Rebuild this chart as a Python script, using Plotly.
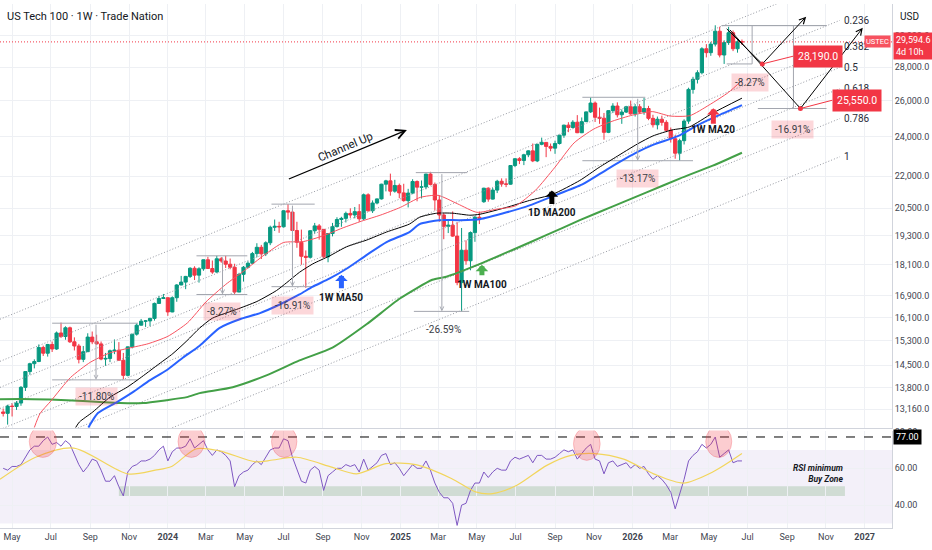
import math
import pandas as pd
import plotly.graph_objects as go

# ---------------- data ----------------
WEEK_START = "2023-04-17"
OPEN = [13080,13040,13250,13240,13340,13810,14300,14550,14620,15080,14890,15180,15030,15570,15450,15750,15270,15130,14690,14940,15430,15270,15200,14700,14720,14970,14990,14660,14180,15100,15530,15840,15980,15990,16080,16620,16800,
        16830,16310,16830,17310,17420,17640,17960,17690,17940,18300,17950,17810,18340,18250,18120,18000,17040,17720,18000,18160,18550,18810,18540,19000,19660,19700,19680,20390,20330,19520,19020,18440,18400,19510,19720,19570,18420,19390,19690,20000,20050,20270,20200,20350,20030,21120,20390,20740,20930,21620,21780,21290,21560,
        21210,20850,21200,21750,21480,21490,22110,21610,20880,20200,19700,19750,19280,17400,18690,18260,19430,20100,20800,21430,20920,21340,21760,21630,21620,22530,22870,22780,23070,23270,22760,23610,23710,23500,23410,23650,24090,24630,24500,24790,24220,24820,25360,25860,25060,25010,24240,25430,25690,25200,25350,25650,
        25250,25650,25350,25550,25000,24650,24950,24780,24350,23900,23150,23800,24850,26650,27250,27650,29150,28900,29450,30300,28750,29550,30200,29150,29600]
HIGH = [13180,13290,13330,13400,13850,14310,14580,14690,15180,15140,15200,15280,15620,15930,15800,15790,15420,15200,15130,15560,15620,15510,15280,14900,15010,15350,15260,14900,15110,15530,15900,16060,16020,16100,16650,16900,16970,
        16840,16880,17340,17660,17660,18000,18040,18000,18310,18420,18270,18460,18410,18460,18350,18140,17780,18050,18240,18620,18980,18910,19060,19730,20000,19900,20410,20690,20450,19900,19560,18680,19540,19850,19800,19580,19400,19850,20100,20120,20350,20500,20560,20690,21180,21190,20860,20950,21640,21830,22130,21830,21650,
        21640,21400,21860,21800,21800,22120,22220,21700,21090,20280,20000,20360,19880,19630,19100,19480,20160,20350,21450,21470,21440,21830,21900,21900,22550,22900,22950,23120,23300,23650,23630,23960,23720,23650,23800,24100,24650,24790,24900,25180,25050,25380,26180,25950,25600,25300,25450,25850,25900,25500,25700,26000,
        25800,25800,26150,25700,25200,25100,25150,24900,24500,24100,23900,24950,26750,27400,27800,29250,29450,29600,30700,30600,29700,30600,30350,29700,29750]
LOW = [12950,12720,12950,13140,13260,13700,14200,14400,14600,14800,14780,14930,15000,15400,15340,15230,14980,14560,14600,14930,15190,15170,14660,14480,14600,14860,14660,14060,14150,15050,15480,15830,15780,15800,16000,16600,16780,
       16170,16300,16680,17300,17150,17580,17500,17400,17860,17930,17740,17780,18180,17970,17920,16970,17040,17440,17950,18130,18400,18330,18450,18900,19500,19420,19650,20000,19490,18790,18100,17200,18350,19380,19130,18370,18200,19270,19650,19680,19870,20070,20050,19900,19970,20350,20290,20680,20900,21280,21080,21220,20960,
       20800,20540,21150,20820,20950,21380,21560,20400,19900,19150,19410,19250,17300,16330,18100,17880,19040,19800,20750,20800,20900,21200,21500,21480,21600,22450,22600,22550,22950,22700,22700,23560,22950,23250,23120,23600,23950,24250,24450,24200,24200,24800,25300,24800,24700,23850,24200,25300,25050,24700,25300,25200,
       25100,25250,25200,24900,24500,24400,24600,24250,23700,22870,22770,23600,24700,26400,27000,27550,28600,28700,29300,28600,28190,29400,29000,28900,29400]
CLOSE = [13040,13250,13240,13340,13810,14300,14550,14620,15080,14890,15180,15030,15570,15450,15750,15270,15130,14690,14940,15430,15270,15200,14700,14720,14970,14990,14660,14180,15100,15530,15840,15980,15990,16080,16620,16800,16830,
         16310,16830,17310,17420,17640,17960,17690,17940,18300,17950,17810,18340,18250,18120,18000,17040,17720,18000,18160,18550,18810,18540,19000,19660,19700,19680,20390,20330,19520,19020,18440,18400,19510,19720,19570,18420,19390,19690,20000,20050,20270,20200,20350,20030,21120,20390,20740,20930,21620,21780,21290,21560,21210,
         20850,21200,21750,21480,21490,22110,21610,20880,20200,19700,19750,19280,17400,18690,18260,19430,20100,20060,21430,20920,21340,21760,21630,21620,22530,22870,22780,23070,23270,22760,23610,23710,23500,23410,23650,24090,24630,24500,24790,24220,24820,25360,25860,25060,25010,24240,25430,25690,25200,25350,25650,25250,
         25650,25350,25550,25000,24650,24950,24780,24350,23900,23150,23800,24850,26650,27250,27650,29150,28900,29450,30300,28750,29550,30200,29150,29600,29595]
RSI = [60,59,61,61,62,66,70,72,72,75,77,73,74,72,75,73,67,62,58,61,65,64,59,53,53,56,50,45,58,61,62,64,64,65,67,70,72,
       64,69,71,71,72,76,71,73,75,70,67,70,69,67,64,50,56,58,59,62,64,62,66,70,71,71,76,75,66,60,53,52,59,61,59,48,56,58,60,60,62,61,62,58,65,59,61,63,67,68,62,63,60,
       56,59,62,60,60,64,59,52,47,44,44,41,29,40,41,48,52,52,58,55,58,60,59,59,64,66,65,66,67,63,67,67,65,65,66,68,70,69,70,65,68,71,73,65,64,57,63,64,61,62,63,60,
       62,60,61,57,54,56,54,51,47,38,46,54,64,67,69,73,71,73,77,66,68,70,63,64,64]
RSI_MA_DATES = ["2023-04-12","2023-06-07","2023-08-06","2023-10-30","2023-12-12","2024-01-07","2024-02-14","2024-03-22","2024-05-18","2024-06-14","2024-07-22","2024-09-16","2024-10-24","2024-12-09","2025-01-25","2025-03-22","2025-04-29","2025-05-26","2025-07-03","2025-08-19","2025-09-26","2025-11-02","2025-12-18","2026-02-03","2026-03-22","2026-05-07","2026-06-22"]
RSI_MA = [54,66,71,57,59,61,70.5,69.5,63.5,64.5,66,60.5,57,62.5,62,54.5,47.2,46.3,50.8,61.6,67,68,65,57,52,58,68]

MA20_DATES = ["2023-06-05","2023-06-14","2023-07-01","2023-08-01","2023-09-01","2023-10-01","2023-11-01","2023-12-01","2024-01-01","2024-02-01","2024-03-01","2024-04-01","2024-05-01","2024-06-01","2024-07-01","2024-08-01","2024-09-01","2024-10-01","2024-11-01","2024-12-01","2025-01-01","2025-02-01","2025-03-01","2025-04-01","2025-05-01","2025-06-01","2025-07-01","2025-08-01","2025-09-01","2025-10-01","2025-11-01","2025-12-01","2026-01-01","2026-02-01","2026-03-01","2026-04-01","2026-05-01","2026-06-01","2026-06-22"]
MA20 = [12640,13035,13400,14115,14595,14895,15060,15205,15455,15925,16675,17330,17880,18500,19010,19050,19290,19620,19930,20200,20545,21000,21095,20700,20320,20460,20615,21325,22450,23685,24420,24855,25180,25375,25130,25150,25740,26480,27190]
MA50_DATES = ["2023-08-29","2023-09-13","2023-10-13","2023-11-07","2023-12-04","2023-12-30","2024-01-25","2024-02-20","2024-03-22","2024-04-23","2024-05-24","2024-06-25","2024-07-26","2024-08-16","2024-09-11","2024-10-08","2024-11-09","2024-12-10","2025-01-15","2025-01-31","2025-03-03","2025-04-04","2025-05-06","2025-06-17","2025-07-23","2025-08-28","2025-10-14","2025-11-24","2026-01-09","2026-02-02","2026-03-14","2026-04-15","2026-05-17","2026-06-22"]
MA50 = [12640,13050,13370,13665,14030,14340,14750,15140,15740,16050,16260,16580,16950,17245,17550,17940,18500,19030,19455,19800,19970,19970,20015,20320,20635,21050,21610,22380,23215,23580,24050,24660,25180,25740]
MA100_DATES = ["2023-04-12","2023-06-02","2023-07-26","2023-09-16","2023-10-18","2023-11-23","2023-12-30","2024-01-31","2024-02-20","2024-04-12","2024-06-04","2024-07-26","2024-09-16","2024-11-09","2024-12-31","2025-02-20","2025-03-14","2025-05-06","2025-06-26","2025-08-19","2025-10-10","2025-12-01","2026-01-23","2026-03-16","2026-05-07","2026-06-22"]
MA100 = [13455,13455,13425,13370,13340,13340,13425,13515,13635,13815,14180,14655,15075,15880,16800,17510,17630,18135,18700,19330,19970,20590,21230,21890,22525,23175]
MA200D_DATES = ["2023-08-09","2023-08-15","2023-09-05","2023-10-02","2023-10-29","2023-11-18","2023-12-15","2024-01-09","2024-01-31","2024-02-20","2024-03-11","2024-04-18","2024-05-20","2024-06-20","2024-07-06","2024-07-26","2024-08-16","2024-09-11","2024-10-08","2024-11-09","2024-12-10","2025-01-15","2025-01-31","2025-02-27","2025-03-24","2025-04-20","2025-05-06","2025-06-17","2025-07-23","2025-08-28","2025-10-10","2025-11-09","2025-12-05","2026-01-09","2026-02-02","2026-03-04","2026-03-31","2026-05-07","2026-06-22"]
MA200D = [12640,12795,13080,13515,13815,14090,14495,14880,15305,15740,16085,16400,16690,17100,17400,17800,18135,18450,18830,19115,19455,19800,20100,20280,20280,20190,20235,20545,20860,21140,21800,22430,22940,23635,24050,24370,24530,25290,26140]

PRICE_TICKS = [13160,13800,14500,15300,16100,16900,18100,19300,20500,22000,24000,26000,28000,30000]
RSI_TICKS = [40, 60, 80]
MONTH_TICKS = ["2023-05-01","2023-07-01","2023-09-01","2023-11-01","2024-01-01","2024-03-01","2024-05-01","2024-07-01","2024-09-01","2024-11-01",
               "2025-01-01","2025-03-01","2025-05-01","2025-07-01","2025-09-01","2025-11-01","2026-01-01","2026-03-01","2026-05-01","2026-07-01","2026-09-01","2026-11-01","2027-01-01"]
MONTH_LABELS = ["May","Jul","Sep","Nov","<b>2024</b>","Mar","May","Jul","Sep","Nov","<b>2025</b>","Mar","May","Jul","Sep","Nov","<b>2026</b>","Mar","May","Jul","Sep","Nov","<b>2027</b>"]
LAST_PRICE = 29594.6
X_RANGE = ["2023-04-12", "2027-02-13"]
Y_RANGE = [12613, 32176]
RSI_RANGE = [27.6, 80.5]

# channel (fib channel): level 1 (bottom) and level 0 (top) anchor lines
CH_DATES = ["2023-04-12", "2026-11-23"]
CH_TOP = [16050, 34060]
CH_BOT = [10825, 22970]
FIB_LEVELS = [0, 0.236, 0.382, 0.5, 0.618, 0.786, 1]
FIB_TEXT = ["0", "0.236", "0.382", "0.5", "0.618", "0.786", "1"]

# measured ranges
RANGES = [
    dict(top=15910, bot=14040, tx=("2023-07-03", "2023-11-15"), bx=("2023-07-03", "2023-11-15"), mid="2023-09-10", label="-11.80%", lx="2023-09-10", ly=13545, pink=True, head=True),
    dict(top=18460, bot=16950, tx=("2024-02-15", "2024-05-05"), bx=("2024-02-15", "2024-05-05"), mid="2024-03-27", label="-8.27%", lx="2024-03-26", ly=16330, pink=True, head=True),
    dict(top=20690, bot=17245, tx=("2024-06-12", "2024-08-19"), bx=("2024-06-12", "2024-08-19"), mid="2024-07-15", label="-16.91%", lx="2024-07-15", ly=16560, pink=True, head=True),
    dict(top=22180, bot=16330, tx=("2025-01-25", "2025-04-16"), bx=("2025-01-22", "2025-04-19"), mid="2025-03-07", label="-26.59%", lx="2025-03-09", ly=15695, pink=False, head=True),
    dict(top=26190, bot=22770, tx=("2025-10-14", "2026-01-21"), bx=("2025-10-14", "2026-04-06"), mid="2026-01-09", label="-13.17%", lx="2026-01-09", ly=21890, pink=True, head=True),
    dict(top=30680, bot=28190, tx=("2026-05-21", "2026-11-02"), bx=("2026-05-29", "2026-07-08"), mid="2026-07-08", label="-8.27%", lx="2026-07-04", ly=27060, pink=True, head=False),
    dict(top=30680, bot=25550, tx=("2026-05-21", "2026-11-02"), bx=("2026-07-17", "2026-11-02"), mid="2026-09-11", label="-16.91%", lx="2026-09-10", ly=24410, pink=True, head=False),
]

# projection paths
PATH1_DATES = ["2026-05-29", "2026-07-24", "2026-10-01"]
PATH1 = [30460, 28190, 31290]
PATH2_DATES = ["2026-06-03", "2026-09-22", "2026-12-29"]
PATH2 = [30390, 25550, 30530]
TARGET_LABEL_DATES = ["2026-09-11", "2026-11-11"]
TARGET_LABEL_PRICES = [28680, 26020]
TARGET_TEXT = ["28,190.0", "25,550.0"]

CHANNEL_ARROW_DATES = ["2024-07-07", "2025-01-11"]
CHANNEL_ARROW = [21840, 24370]

# MA callouts: tip date, tip price, tail length px, color, label, label price
CALLOUTS = [
    ("2024-09-30", 17705, 15, "#2962ff", "1W MA50", 16835),
    ("2025-05-09", 18095, 12, "#4caf50", "1W MA100", 17320),
    ("2025-08-27", 21325, 15, "#000000", "1D MA200", 20320),
    ("2026-05-08", 25570, 17, "#f23645", "1W MA20", 24370),
]

# RSI circles (x0, x1, y0, y1)
RSI_CIRCLES = [
    ("2023-05-28", "2023-07-10", 65.9, 83.2),
    ("2024-01-17", "2024-02-28", 65.9, 83.2),
    ("2024-06-12", "2024-07-22", 65.9, 83.2),
    ("2025-09-30", "2025-11-11", 64.3, 82.2),
    ("2026-04-26", "2026-06-06", 65.9, 83.2),
]
BUY_ZONE = ("2023-10-16", "2026-12-01", 45.0, 50.3)
RSI_LEVEL = 77

# ---------------- figure ----------------
UP, DOWN = "#089981", "#f23645"
GRID = "#eef0f4"
GRAYLINE = "#a3a6af"
LG = math.log10
FONT = "Roboto, 'Open Sans', sans-serif"

DATES = pd.date_range(WEEK_START, periods=len(CLOSE), freq="7D")

fig = go.Figure()

# fib channel lines
lt = [math.log(v) for v in CH_TOP]
lb = [math.log(v) for v in CH_BOT]
fib_end = []
for L in FIB_LEVELS:
    ys = [math.exp(lb[i] + (1 - L) * (lt[i] - lb[i])) for i in range(2)]
    fib_end.append(ys[1])
    fig.add_trace(go.Scatter(x=CH_DATES, y=ys, mode="lines", xaxis="x", yaxis="y",
                             line=dict(color="#9598a1", width=1, dash="1px,2px"), hoverinfo="skip"))

# measurement lines
for r in RANGES:
    fig.add_trace(go.Scatter(x=list(r["tx"]), y=[r["top"], r["top"]], mode="lines",
                             line=dict(color=GRAYLINE, width=1), hoverinfo="skip"))
    fig.add_trace(go.Scatter(x=list(r["bx"]), y=[r["bot"], r["bot"]], mode="lines",
                             line=dict(color=GRAYLINE, width=1), hoverinfo="skip"))
    if not r["head"]:
        fig.add_trace(go.Scatter(x=[r["mid"], r["mid"]], y=[r["top"], r["bot"]], mode="lines",
                                 line=dict(color=GRAYLINE, width=1), hoverinfo="skip"))

# current price line
fig.add_trace(go.Scatter(x=X_RANGE, y=[LAST_PRICE, LAST_PRICE], mode="lines",
                         line=dict(color="#f23645", width=1, dash="1px,2px"), hoverinfo="skip"))

# candles
fig.add_trace(go.Candlestick(x=DATES, open=OPEN, high=HIGH, low=LOW, close=CLOSE,
                             increasing=dict(line=dict(color=UP, width=1), fillcolor=UP),
                             decreasing=dict(line=dict(color=DOWN, width=1), fillcolor=DOWN),
                             whiskerwidth=0, hoverinfo="skip", xaxis="x", yaxis="y"))

# moving averages
for dts, vals, col, w in [(MA100_DATES, MA100, "#43a047", 2), (MA50_DATES, MA50, "#2962ff", 2),
                          (MA200D_DATES, MA200D, "#000000", 1), (MA20_DATES, MA20, "#f7525f", 1)]:
    fig.add_trace(go.Scatter(x=dts, y=vals, mode="lines", line=dict(color=col, width=w, shape="spline", smoothing=0.6),
                             hoverinfo="skip"))

# projection paths
for dts, vals in [(PATH1_DATES, PATH1), (PATH2_DATES, PATH2)]:
    fig.add_trace(go.Scatter(x=dts[:2], y=vals[:2], mode="lines", line=dict(color="#000000", width=1), hoverinfo="skip"))
# connectors to target labels
fig.add_trace(go.Scatter(x=[PATH1_DATES[1], TARGET_LABEL_DATES[0]], y=[PATH1[1], TARGET_LABEL_PRICES[0]], mode="lines",
                         line=dict(color="#f23645", width=1), hoverinfo="skip"))
fig.add_trace(go.Scatter(x=[PATH2_DATES[1], TARGET_LABEL_DATES[1]], y=[PATH2[1], TARGET_LABEL_PRICES[1]], mode="lines",
                         line=dict(color="#f23645", width=1), hoverinfo="skip"))
fig.add_trace(go.Scatter(x=[PATH1_DATES[1], PATH2_DATES[1]], y=[PATH1[1], PATH2[1]], mode="markers",
                         marker=dict(color="#f23645", size=5), hoverinfo="skip"))

# RSI pane
fig.add_trace(go.Scatter(x=DATES, y=RSI, mode="lines", xaxis="x2", yaxis="y2",
                         line=dict(color="#7e57c2", width=1), hoverinfo="skip"))
fig.add_trace(go.Scatter(x=RSI_MA_DATES, y=RSI_MA, mode="lines", xaxis="x2", yaxis="y2",
                         line=dict(color="#f2d55c", width=1.2, shape="spline", smoothing=0.8), hoverinfo="skip"))

ann = []
# title etc
ann.append(dict(xref="paper", yref="paper", x=0, y=1 - 13 / 528, xshift=5, xanchor="left", yanchor="middle",
                text="US Tech 100 · 1W · Trade Nation", showarrow=False, font=dict(size=11, color="#131722")))
ann.append(dict(xref="paper", yref="paper", x=1, y=1 - 13 / 528, xshift=6, xanchor="left", yanchor="middle",
                text="USD", showarrow=False, font=dict(size=10, color="#131722")))
# fib labels
for L, t, pe in zip(FIB_LEVELS, FIB_TEXT, fib_end):
    if L == 0:
        continue
    ann.append(dict(x=CH_DATES[1], y=LG(pe), xref="x", yref="y", xanchor="left", yanchor="middle", xshift=2,
                    text=t, showarrow=False, font=dict(size=10, color="#2a2e39")))
# measurement labels & arrows
for r in RANGES:
    if r["head"]:
        ann.append(dict(x=r["mid"], y=LG(r["bot"]), ax=r["mid"], ay=LG(r["top"]), xref="x", yref="y", axref="x", ayref="y",
                        text="", showarrow=True, arrowhead=5, arrowsize=0.8, arrowwidth=1, arrowcolor=GRAYLINE, standoff=0))
    ann.append(dict(x=r["lx"], y=LG(r["ly"]), xref="x", yref="y", text=r["label"], showarrow=False,
                    font=dict(size=10, color="#3a3d46"),
                    bgcolor="rgba(242,54,69,0.2)" if r["pink"] else "rgba(0,0,0,0)", borderpad=3))
# projection arrowheads
for dts, vals in [(PATH1_DATES, PATH1), (PATH2_DATES, PATH2)]:
    ann.append(dict(x=dts[2], y=LG(vals[2]), ax=dts[1], ay=LG(vals[1]), xref="x", yref="y", axref="x", ayref="y",
                    text="", showarrow=True, arrowhead=5, arrowsize=1.2, arrowwidth=1, arrowcolor="#000000", standoff=0))
for d, p, t in zip(TARGET_LABEL_DATES, TARGET_LABEL_PRICES, TARGET_TEXT):
    ann.append(dict(x=d, y=LG(p), xref="x", yref="y", xanchor="left", text=t, showarrow=False,
                    font=dict(size=10.5, color="white"), bgcolor="#f23645", borderpad=4))
# channel up arrow + text
ann.append(dict(x=CHANNEL_ARROW_DATES[1], y=LG(CHANNEL_ARROW[1]), ax=CHANNEL_ARROW_DATES[0], ay=LG(CHANNEL_ARROW[0]),
                xref="x", yref="y", axref="x", ayref="y", text="", showarrow=True, arrowhead=5, arrowsize=1.4,
                arrowwidth=1.3, arrowcolor="#000000", standoff=0))
ann.append(dict(x="2024-10-05", y=LG(23480), xref="x", yref="y", text="Channel Up", showarrow=False, textangle=-23,
                font=dict(size=11.5, color="#131722")))
# MA callouts (block arrows)
for d, p, tail, col, lab, lp in CALLOUTS:
    ann.append(dict(x=d, y=LG(p), xref="x", yref="y", ax=0, ay=tail, text="", showarrow=True, arrowhead=1,
                    arrowsize=0.42, arrowwidth=5, arrowcolor=col, standoff=0))
    ann.append(dict(x=d, y=LG(lp), xref="x", yref="y", text="<b>" + lab + "</b>", showarrow=False,
                    font=dict(size=10, color="#131722")))
# last price labels
ann.append(dict(xref="paper", yref="y", x=1, y=LG(LAST_PRICE), xanchor="right", xshift=-1, text="USTEC", showarrow=False,
                font=dict(size=7.5, color="white"), bgcolor="#f7525f", borderpad=1))
ann.append(dict(xref="paper", yref="y", x=1, y=LG(LAST_PRICE), xanchor="left", yanchor="middle", yshift=-4, xshift=1,
                text="29,594.6<br>4d 10h", showarrow=False, align="left",
                font=dict(size=9, color="white"), bgcolor="#f23645", borderpad=2))
# RSI labels
ann.append(dict(xref="paper", yref="y2", x=1, y=RSI_LEVEL, xanchor="left", xshift=1, text="77.00", showarrow=False,
                font=dict(size=9, color="white"), bgcolor="#000000", borderpad=2))
ann.append(dict(x=BUY_ZONE[1], y=57.3, xref="x2", yref="y2", xanchor="right", text="<b><i>RSI minimum<br>Buy Zone</i></b>",
                showarrow=False, align="right", font=dict(size=8.5, color="#131722")))

shapes = []
shapes.append(dict(type="rect", xref="paper", yref="y2", x0=0, x1=1, y0=30, y1=70,
                   fillcolor="rgba(126,87,194,0.09)", line=dict(width=0), layer="below"))
shapes.append(dict(type="rect", xref="x2", yref="y2", x0=BUY_ZONE[0], x1=BUY_ZONE[1], y0=BUY_ZONE[2], y1=BUY_ZONE[3],
                   fillcolor="rgba(120,170,120,0.28)", line=dict(width=0), layer="below"))
shapes.append(dict(type="line", xref="paper", yref="y2", x0=0, x1=1, y0=RSI_LEVEL, y1=RSI_LEVEL,
                   line=dict(color="#000000", width=1, dash="dash")))
for x0, x1, y0, y1 in RSI_CIRCLES:
    shapes.append(dict(type="circle", xref="x2", yref="y2", x0=x0, x1=x1, y0=y0, y1=y1,
                       fillcolor="rgba(242,54,69,0.25)", line=dict(color="rgba(242,54,69,0.25)", width=1)))

fig.update_layout(
    width=932, height=550,
    margin=dict(l=0, r=40, t=0, b=22),
    paper_bgcolor="white", plot_bgcolor="white",
    showlegend=False,
    boxgap=0.2, boxgroupgap=0.1,
    font=dict(family=FONT, size=10, color="#131722"),
    annotations=ann, shapes=shapes,
    xaxis=dict(type="date", range=X_RANGE, domain=[0, 1], anchor="y", showticklabels=False, tickvals=MONTH_TICKS,
               showgrid=True, gridcolor=GRID, zeroline=False, rangeslider=dict(visible=False), ticks="",
               showline=True, linecolor="#d1d4dc", fixedrange=True),
    yaxis=dict(type="log", range=[LG(Y_RANGE[0]), LG(Y_RANGE[1])], domain=[0.19, 1], side="right", anchor="x",
               tickvals=PRICE_TICKS, ticktext=[f"{v:,.1f}" for v in PRICE_TICKS], showgrid=True, gridcolor=GRID,
               ticks="", showline=True, linecolor="#d1d4dc", zeroline=False, tickfont=dict(size=9, color="#434651")),
    xaxis2=dict(type="date", range=X_RANGE, matches="x", anchor="y2", domain=[0, 1], tickvals=MONTH_TICKS,
                ticktext=MONTH_LABELS, showgrid=True, gridcolor=GRID, ticks="", zeroline=False,
                showline=True, linecolor="#d1d4dc", tickfont=dict(size=9, color="#434651")),
    yaxis2=dict(range=RSI_RANGE, domain=[0, 0.186], side="right", anchor="x2", tickvals=RSI_TICKS,
                ticktext=[f"{v:.2f}" for v in RSI_TICKS], showgrid=True, gridcolor=GRID, ticks="", zeroline=False,
                showline=True, linecolor="#d1d4dc", tickfont=dict(size=9, color="#434651")),
)

fig.write_html("out.html", config={"displayModeBar": False},
               post_script="document.body.style.margin='0';document.body.style.overflow='hidden';")
